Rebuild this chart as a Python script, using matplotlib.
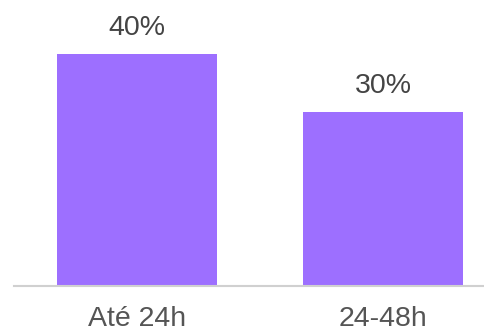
import matplotlib.pyplot as plt

# data
categories = ['Até 24h', '24-48h']
values = [40, 30]
labels = ['40%', '30%']

plt.rcParams['font.family'] = ['Liberation Sans', 'DejaVu Sans']

fig = plt.figure(figsize=(4.84, 3.31), dpi=100)
ax = fig.add_axes([14 / 484, 1 - 286 / 331, 1 - 14 / 484, 286 / 331])

x = range(len(categories))
bars = ax.bar(x, values, width=0.65, color='#9D6FFF')

for b, lab in zip(bars, labels):
    ax.annotate(lab, (b.get_x() + b.get_width() / 2, b.get_height()),
                xytext=(0, 9), textcoords='offset points',
                ha='center', va='bottom', fontsize=20.5, color='#444444')

ax.set_xlim(-0.5, 1.4106)
ax.set_ylim(0, 49.3)
ax.set_xticks(list(x))
ax.set_xticklabels(categories, fontsize=20.5, color='#555555')
ax.tick_params(axis='x', length=0, pad=14.5)
ax.set_yticks([])
for s in ['top', 'right', 'left']:
    ax.spines[s].set_visible(False)
ax.spines['bottom'].set_color('#d0d0d0')
ax.spines['bottom'].set_linewidth(1.5)

fig.savefig('out.png', dpi=100)
